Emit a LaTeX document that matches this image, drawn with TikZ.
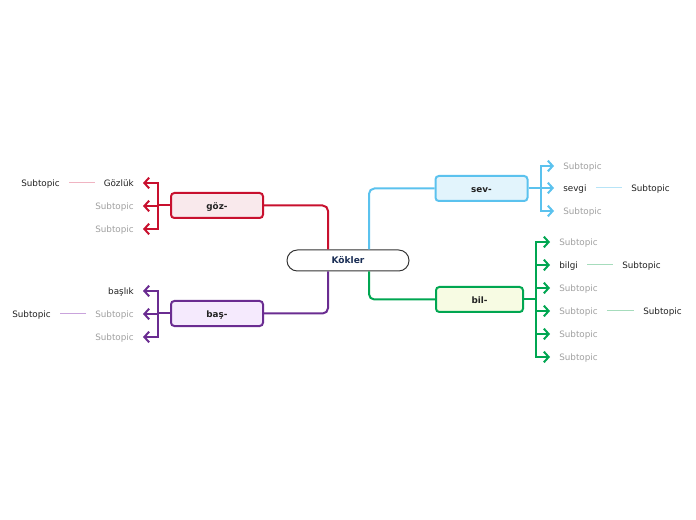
\documentclass[tikz,border=0pt]{standalone}
\usepackage{fontspec}
\setmainfont{DejaVu Sans}
\usetikzlibrary{arrows.meta,calc}
\definecolor{cred}{HTML}{C8102E}
\definecolor{cpur}{HTML}{6A2C91}
\definecolor{cblu}{HTML}{5BC2EE}
\definecolor{cgrn}{HTML}{00A651}
\definecolor{fred}{HTML}{F9E9EC}
\definecolor{fpur}{HTML}{F5EAFD}
\definecolor{fblu}{HTML}{E2F4FC}
\definecolor{fgrn}{HTML}{F7FBE3}
\definecolor{lred}{HTML}{F0B4C2}
\definecolor{lpur}{HTML}{C9A3DC}
\definecolor{lblu}{HTML}{B7E4F7}
\definecolor{lgrn}{HTML}{A6DCBC}
\definecolor{gtxt}{HTML}{A0A0A0}
\definecolor{btxt}{HTML}{222222}
\definecolor{navy}{HTML}{1A2E55}
\tikzset{
  topic/.style={draw=#1, line width=1.5pt, rounded corners=2.5pt, minimum width=69pt, minimum height=18.75pt, inner sep=0pt, text height=5.9pt, text depth=0.3pt, font=\fontsize{6.6}{8}\selectfont\bfseries, text=btxt},
  central/.style={draw=black!80, line width=0.75pt, rounded corners=7.8pt, minimum width=91.5pt, minimum height=15.75pt, inner sep=0pt, text height=5.7pt, text depth=0.5pt, font=\fontsize{6.8}{8}\selectfont\bfseries, text=navy},
  lbl/.style={inner xsep=6.75pt, inner ysep=1pt, text height=5.6pt, text depth=0.9pt, font=\fontsize{6.6}{8}\selectfont, text=#1},
  lbl/.default=gtxt,
  conn/.style={draw=#1, line width=1.5pt, rounded corners=4pt},
  carrow/.style={draw=#1, line width=1.5pt, -{Straight Barb[length=3.6pt,width=8pt]}},
  gline/.style={draw=#1, line width=0.75pt}
}
\begin{document}
\begin{tikzpicture}[x=0.75pt, y=-0.75pt]
\useasboundingbox (0,0) rectangle (696,520);
% topics
\node[central] (kok) at (348,260.5) {Kökler};
\node[topic=cred, fill=fred] (goz) at (217,205.5) {göz-};
\node[topic=cpur, fill=fpur] (bas) at (217,313.5) {baş-};
\node[topic=cblu, fill=fblu] (sev) at (481.5,188.5) {sev-};
\node[topic=cgrn, fill=fgrn, minimum width=65.25pt] (bil) at (479.5,299.5) {bil-};
% main connectors
\draw[conn=cred] ($(kok.north)+(-20,0)$) |- (goz.east);
\draw[conn=cpur] ($(kok.south)+(-20,0)$) |- (bas.east);
\draw[conn=cblu] ($(kok.north)+(21,0)$) |- (sev.west);
\draw[conn=cgrn] ($(kok.south)+(21,0)$) |- (bil.west);
% goz children
\node[lbl=btxt, anchor=east] (g1) at (143,183) {Gözlük};
\node[lbl, anchor=east] (g2) at (143,206) {Subtopic};
\node[lbl, anchor=east] (g3) at (143,229) {Subtopic};
\node[lbl=btxt, anchor=east] (g1c) at (69,183) {Subtopic};
\foreach \c in {g1,g2,g3} \draw[carrow=cred] (goz.west) -- ++(-12,0) |- (\c.east);
\draw[gline=lred] (g1.west) -- (g1c.east);
% bas children
\node[lbl=btxt, anchor=east] (b1) at (143,291) {başlık};
\node[lbl, anchor=east] (b2) at (143,314) {Subtopic};
\node[lbl, anchor=east] (b3) at (143,337) {Subtopic};
\node[lbl=btxt, anchor=east] (b2c) at (60,314) {Subtopic};
\foreach \c in {b1,b2,b3} \draw[carrow=cpur] (bas.west) -- ++(-12,0) |- (\c.east);
\draw[gline=lpur] (b2.west) -- (b2c.east);
% sev children
\node[lbl, anchor=west] (s1) at (554,166) {Subtopic};
\node[lbl=btxt, anchor=west] (s2) at (554,188) {sevgi};
\node[lbl, anchor=west] (s3) at (554,211) {Subtopic};
\node[lbl=btxt, anchor=west] (s2c) at (622,188) {Subtopic};
\foreach \c in {s1,s2,s3} \draw[carrow=cblu] (sev.east) -- ++(12,0) |- (\c.west);
\draw[gline=lblu] (s2.east) -- (s2c.west);
% bil children
\node[lbl, anchor=west] (i1) at (550,242) {Subtopic};
\node[lbl=btxt, anchor=west] (i2) at (550,265) {bilgi};
\node[lbl, anchor=west] (i3) at (550,288) {Subtopic};
\node[lbl, anchor=west] (i4) at (550,311) {Subtopic};
\node[lbl, anchor=west] (i5) at (550,334) {Subtopic};
\node[lbl, anchor=west] (i6) at (550,357) {Subtopic};
\node[lbl=btxt, anchor=west] (i2c) at (613,265) {Subtopic};
\node[lbl=btxt, anchor=west] (i4c) at (634,311) {Subtopic};
\foreach \c in {i1,i2,i3,i4,i5,i6} \draw[carrow=cgrn] (bil.east) -- ++(12,0) |- (\c.west);
\draw[gline=lgrn] (i2.east) -- (i2c.west);
\draw[gline=lgrn] (i4.east) -- (i4c.west);
\end{tikzpicture}
\end{document}
